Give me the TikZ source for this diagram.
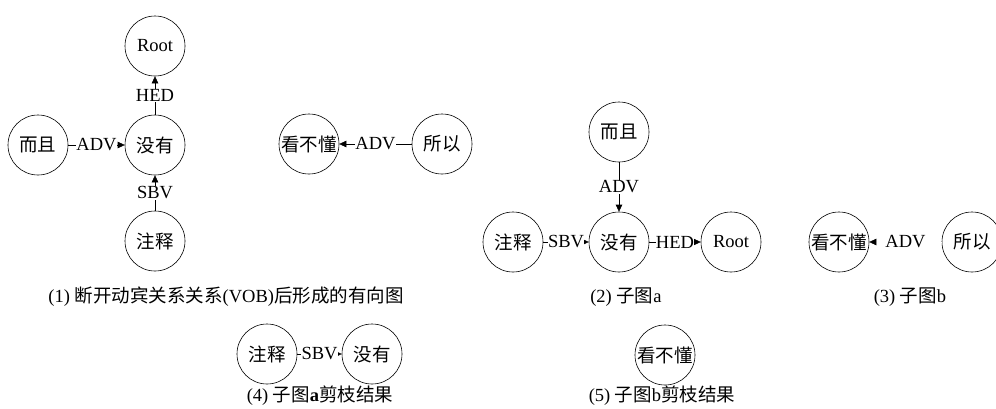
\documentclass[tikz,border=0pt]{standalone}
\usepackage{fontspec}
\setmainfont{Liberation Serif}
\newfontfamily\zhfont{Noto Sans CJK SC}
\newcommand{\zh}[1]{{\zhfont #1}}
\usetikzlibrary{arrows.meta}
\begin{document}
\begin{tikzpicture}[x=1pt,y=-1pt,
  every node/.style={font=\fontsize{18.5}{21}\selectfont},
  wnode/.style={circle,draw,line width=0.6pt,minimum size=60pt,inner sep=0pt},
  lab/.style={fill=white,inner sep=0.3pt},
  conn/.style={line width=0.6pt,-{Triangle[length=7pt,width=6.5pt]}},
  captext/.style={inner sep=0pt}]
\useasboundingbox (0,0) rectangle (996,408);
% Panel 1
\node[wnode] (r1) at (155,46) {Root};
\node[wnode] (e1) at (38,145) {\zh{而且}};
\node[wnode] (m1) at (155,145) {\zh{没有}};
\node[wnode] (z1) at (155,241) {\zh{注释}};
\draw[conn] (m1) -- node[lab]{HED} (r1);
\draw[conn] (e1) -- node[lab]{ADV} (m1);
\draw[conn] (z1) -- node[lab]{SBV} (m1);
\node[wnode] (k1) at (309,144) {\zh{看不懂}};
\node[wnode] (s1) at (442,144) {\zh{所以}};
\draw[conn] (s1) -- node[lab]{ADV} (k1);
\node[captext] (c1) at (226,297) {(1) \zh{断开动宾关系关系}(VOB)\zh{后形成的有向图}};
% Panel 2
\node[wnode] (e2) at (619,132) {\zh{而且}};
\node[wnode] (m2) at (619,242) {\zh{没有}};
\node[wnode] (z2) at (513,242) {\zh{注释}};
\node[wnode] (r2) at (731,242) {Root};
\draw[conn] (e2) -- node[lab]{ADV} (m2);
\draw[conn] (z2) -- node[lab]{SBV} (m2);
\draw[conn] (m2) -- node[lab]{HED} (r2);
\node[captext] (c2) at (626,297) {(2) \zh{子图}a};
% Panel 3
\node[wnode] (k3) at (839,242) {\zh{看不懂}};
\node[wnode] (s3) at (972,242) {\zh{所以}};
\draw[conn,white,-{Triangle[length=7pt,width=6.5pt,black]}] (s3) -- node[lab,text=black]{\,ADV\,} (k3);
\node[captext] (c3) at (910,297) {(3) \zh{子图}b};
% Panel 4
\node[wnode] (z4) at (267,354) {\zh{注释}};
\node[wnode] (m4) at (372,354) {\zh{没有}};
\draw[conn] (z4) -- node[lab]{SBV} (m4);
\node[captext] (c4) at (320,396) {(4) \zh{子图}\textbf{a}\zh{剪枝结果}};
% Panel 5
\node[wnode] (k5) at (665,355) {\zh{看不懂}};
\node[captext] (c5) at (662,396) {(5) \zh{子图}b\zh{剪枝结果}};
\end{tikzpicture}
\end{document}
